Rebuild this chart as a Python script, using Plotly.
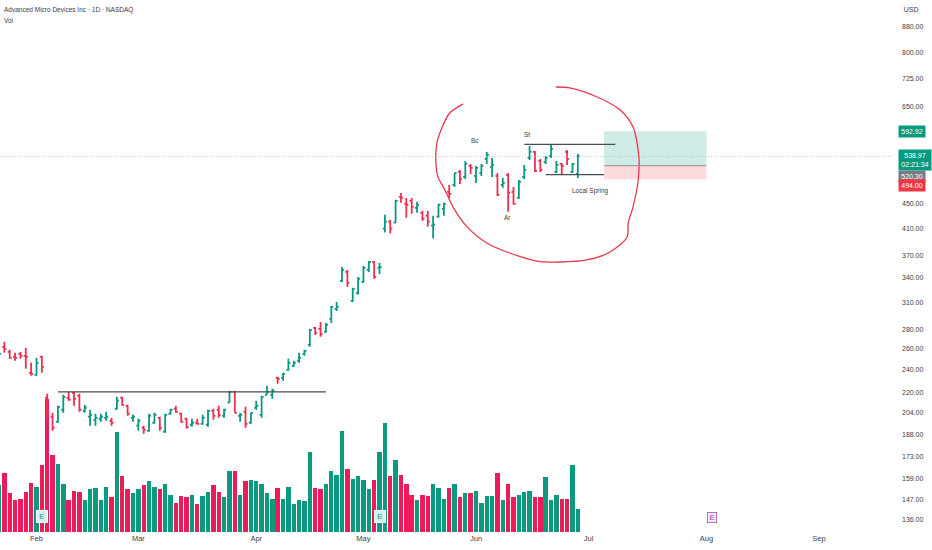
import math
import plotly.graph_objects as go

# Daily OHLC (one entry per trading day)
opens = [254.1, 262, 257, 252.2, 255.1, 253.2, 237.4, 235.6, 252.2, 216,
         201, 197.2, 206.4, 216, 220.1, 217.6, 205.6, 201, 198.7, 199.5,
         200.2, 198, 207.2, 216, 209.5, 200.2, 194.3, 192.8, 190.6, 196.5,
         200.2, 189.9, 203.3, 207.2, 203.3, 199.5, 195, 196.5, 195.7, 195,
         205.6, 206.4, 201.7, 212, 220.9, 201.7, 204.8, 196.5, 208, 202.5,
         218.4, 218.4, 232.9, 232.9, 240.1, 243.8, 248.5, 255.1, 263.9, 281.4,
         280.4, 277.2, 291.2, 302.4, 336.3, 347.9, 311.8, 321.4, 335, 350.6,
         361.3, 353.2, 410, 420.9, 419.3, 462.3, 450.3, 455.4, 443.6, 435.3,
         430.5, 414.6, 428.9, 441.9, 471.2, 483.8, 508.2, 498.7, 519.8, 500.6,
         506.3, 533.8, 517.9, 500.6, 483.8, 502.5, 471.2, 460.6, 498.7, 535.8,
         548.1, 529.8, 527.8, 539.9, 508.2, 523.8, 548.1, 508.2, 504.4]
highs = [257, 267, 259, 256.1, 257, 261, 246.6, 251.3, 253.2, 219.3,
         204, 209.5, 218.4, 220.9, 220.9, 219.3, 210.3, 206.4, 203.3, 203.3,
         204.8, 200.2, 216.8, 216.8, 210.3, 202.5, 199.5, 194.3, 203.3, 204,
         201, 203.3, 207.2, 209.5, 204, 200.2, 199.5, 199.5, 202.5, 206.4,
         207.2, 209.5, 207.2, 221.8, 221.8, 204, 208.7, 204, 213.6, 217.6,
         226, 223.5, 233.8, 237.4, 250.3, 248.5, 256.1, 259, 280.4, 282.5,
         287.9, 286.8, 305.9, 310.6, 354.5, 350.6, 327.6, 341.4, 355.9, 362.6,
         362.6, 359.9, 432.1, 424.1, 457.2, 469.4, 460.6, 460.6, 453.7, 438.5,
         438.5, 430.5, 450.3, 452, 483.8, 506.3, 512, 529.8, 523.8, 519.8,
         523.8, 548.1, 535.8, 506.3, 496.8, 506.3, 480.2, 493, 521.8, 560.8,
         550.2, 533.8, 539.9, 565, 529.8, 525.8, 552.3, 525.8, 544]
lows = [253.2, 256.1, 250.3, 248.5, 250.3, 241, 234.7, 234.7, 237.4, 200.2,
        190.6, 196.5, 204, 213.6, 209.5, 204.8, 204, 194.3, 194.3, 197.2,
        198, 194.3, 206.4, 209.5, 201.7, 197.2, 190.6, 188.5, 189.9, 195.7,
        190.6, 189.2, 202.5, 204, 196.5, 192, 193.5, 195, 195, 193.5,
        198.7, 200.2, 200.2, 212, 204, 197.2, 192.8, 195.7, 206.4, 200.2,
        218.4, 215.2, 227.7, 230.3, 239.2, 242.8, 246.6, 253.2, 262, 274.1,
        272.1, 276.2, 286.8, 300.1, 335, 328.8, 310.6, 319, 333.8, 347.9,
        338.9, 345.3, 404, 402.4, 419.3, 452, 427.3, 433.7, 435.3, 422.5,
        413, 395.1, 427.3, 430.5, 460.6, 480.2, 485.6, 494.9, 504.4, 487.5,
        500.6, 523.8, 498.7, 464, 478.4, 436.9, 448.6, 458.9, 494.9, 531.8,
        508.2, 508.2, 523.8, 535.8, 506.3, 502.5, 521.8, 506.3, 496.8]
closes = [255.1, 260, 251.3, 251.3, 253.2, 252.2, 236.5, 246.6, 242.8, 204.8,
          192.8, 208.7, 216.8, 214.4, 215.2, 206.4, 208, 202.5, 200.2, 201,
          201, 196.5, 213.6, 210.3, 203.3, 201, 198, 191.3, 201.7, 202.5,
          192.8, 202.5, 206.4, 204.8, 197.2, 193.5, 196.5, 195.7, 200.2, 205.6,
          201.7, 202.5, 206.4, 220.9, 204, 202.5, 195.7, 204, 209.5, 216.8,
          220.9, 221.8, 232, 236.5, 246.6, 246.6, 251.3, 258, 279.4, 276.2,
          275.2, 284.7, 304.7, 304.7, 350.6, 333.8, 326.3, 338.9, 353.2, 361.3,
          341.4, 354.5, 420.9, 410, 455.4, 460.6, 448.6, 445.3, 448.6, 425.7,
          420.9, 416.2, 448.6, 450.3, 467.6, 506.3, 494.9, 523.8, 515.9, 515.9,
          519.8, 541.9, 521.8, 465.8, 487.5, 469.4, 450.3, 489.3, 512, 548.1,
          510.1, 512, 535.8, 554.4, 521.8, 519.8, 533.8, 523.8, 538.97]
# Volume, in millions (no scale on the chart, so estimated from bar heights)
volumes = [35, 44, 29, 24, 25, 30, 37, 34, 50, 100,
           58, 51, 36, 24, 31, 30, 24, 32, 33, 24,
           34, 26, 75, 42, 32, 29, 32, 35, 38, 34,
           32, 36, 28, 22, 27, 26, 28, 21, 27, 30,
           35, 30, 26, 46, 46, 28, 38, 39, 38, 36,
           29, 25, 33, 25, 34, 21, 24, 23, 60, 33,
           32, 36, 46, 43, 76, 47, 40, 42, 39, 32,
           39, 60, 82, 42, 54, 43, 36, 28, 24, 28,
           27, 36, 33, 25, 33, 36, 26, 29, 29, 31,
           22, 27, 27, 44, 24, 36, 26, 28, 30, 31,
           26, 26, 41, 24, 28, 25, 25, 50, 17]

month_ticks = [7, 26, 48, 68, 89, 110, 132, 153]
month_labels = ['Feb', 'Mar', 'Apr', 'May', 'Jun', 'Jul', 'Aug', 'Sep']
price_ticks = [880, 800, 725, 650, 450, 410, 370, 340, 310, 280, 260, 240,
               220, 204, 188, 173, 159, 147, 136]

earnings_days = [8, 71]
next_earnings_day = 133

target_price = 592.92
stop_price = 494.00
entry_price = 520.30
last_price = closes[-1]

# Hand drawn red circle, as bar number / price
circle_days = [86.6, 84.1, 82.7, 81.7, 81.5, 81.9, 83.2, 84.7, 87.3, 91, 95.3, 100.4, 104.7,
               109.7, 114, 117.2, 117.4, 118.3, 119.2, 119.4, 118.3, 115.9, 111.6, 106.5, 103.9]
circle_prices = [657.5, 635.3, 602.5, 567, 531.8, 498.7, 474.8, 445.3, 413, 388.3, 373.8, 362.6, 361.3,
                 364.1, 375.2, 397.2, 418.9, 445.3, 487.3, 537.8, 602.5, 642.6, 675, 698.5, 701.1]

GREEN = '#089981'
RED = '#ee2f4f'
VOL_GREEN = '#0b9a80'
VOL_RED = '#ec1c5b'
TEXT = '#3a3e48'
FONT = 'Liberation Sans'

days = list(range(len(closes)))
vol_colors = [VOL_RED if c < o else VOL_GREEN for o, c in zip(opens, closes)]

fig = go.Figure()

fig.add_trace(go.Bar(x=days, y=volumes, marker=dict(color=vol_colors, line_width=0),
                     width=0.82, yaxis='y', hoverinfo='none', showlegend=False))
fig.add_trace(go.Ohlc(x=days, open=opens, high=highs, low=lows, close=closes, yaxis='y2',
                      tickwidth=0.38, increasing=dict(line=dict(color=GREEN, width=1.8)),
                      decreasing=dict(line=dict(color=RED, width=1.8)),
                      hoverinfo='none', showlegend=False))
fig.add_trace(go.Scatter(x=circle_days, y=circle_prices, yaxis='y2', mode='lines',
                         line=dict(color='#e8394f', width=1.3, shape='spline', smoothing=0.8),
                         hoverinfo='none', showlegend=False))


def level(x0, x1, price):
    fig.add_shape(type='line', xref='x', yref='y2', x0=x0, x1=x1, y0=price, y1=price,
                  line=dict(color='#4a4d55', width=1.2))


def zone(x0, x1, p0, p1, color):
    fig.add_shape(type='rect', xref='x', yref='y2', x0=x0, x1=x1, y0=p0, y1=p1,
                  fillcolor=color, line_width=0, layer='below')


# Risk/reward box
zone(112.9, 132, entry_price, target_price, 'rgba(8,153,129,0.2)')
zone(112.9, 132, stop_price, entry_price, 'rgba(242,54,69,0.18)')
fig.add_shape(type='line', xref='x', yref='y2', x0=112.9, x1=132, y0=entry_price, y1=entry_price,
              line=dict(color='#8a8d93', width=1))

# Trend lines
level(11, 61, 220.9)
level(98, 115, 564)
level(102, 112.9, 503)

# Last price line
fig.add_shape(type='line', xref='paper', yref='y2', x0=0, x1=1, y0=last_price, y1=last_price,
              line=dict(color='#8fb8af', width=0.7, dash='1px,2px'))


def note(text, x, price):
    fig.add_annotation(text=text, x=x, y=math.log10(price), xref='x', yref='y2', showarrow=False,
                       font=dict(family=FONT, size=6.5, color=TEXT))


note('Bc', 88.8, 571.4)
note('St', 98.5, 584.6)
note('Ar', 94.8, 426.9)
note('Local Spring', 110.3, 472.9)


def price_tag(text, price, color, w=25, h=10, shift=0):
    fig.add_annotation(text=text, x=1, xref='paper', y=math.log10(price), yref='y2', xanchor='left',
                       xshift=5, yshift=shift, showarrow=False, bgcolor=color, width=w, height=h,
                       borderpad=0.5, align='center', font=dict(family=FONT, size=7, color='white'))


price_tag(f'{target_price:.2f}', target_price, GREEN)
price_tag(f'{entry_price:.2f}', entry_price, '#787b86', shift=-11)
price_tag(f'{stop_price:.2f}', stop_price, '#f23645', shift=-6)
price_tag(f'{last_price:.2f}<br>02:21:34', last_price, GREEN, w=31, h=19, shift=-4)

# Earnings flags sit on the bottom of the chart
for day in earnings_days:
    fig.add_annotation(text='E', x=day, xref='x', y=0.017, yref='paper', showarrow=False, width=10, height=11,
                       bgcolor='#d9f1ec', bordercolor='#ffffff', borderwidth=1, borderpad=0,
                       font=dict(family=FONT, size=8, color=GREEN))
fig.add_annotation(text='E', x=next_earnings_day, xref='x', y=0.017, yref='paper', showarrow=False, width=9, height=10,
                   bgcolor='#f6ecf8', bordercolor='#a13cb8', borderwidth=0.7, borderpad=0,
                   font=dict(family=FONT, size=8, color='#a13cb8'))

fig.add_annotation(text='Advanced Micro Devices Inc · 1D · NASDAQ', x=0, y=1, xref='paper', yref='paper',
                   xanchor='left', yanchor='top', xshift=2, yshift=-4, showarrow=False,
                   font=dict(family=FONT, size=6.5, color=TEXT))
fig.add_annotation(text='Vol', x=0, y=1, xref='paper', yref='paper', xanchor='left', yanchor='top',
                   xshift=2, yshift=-15, showarrow=False, font=dict(family=FONT, size=6.5, color=TEXT))
fig.add_annotation(text='USD', x=1, y=1, xref='paper', yref='paper', xanchor='left', yanchor='top',
                   xshift=9, yshift=-4, showarrow=False, bgcolor='white', bordercolor='#f0f1f3', borderwidth=0.7,
                   font=dict(family=FONT, size=7, color=TEXT))

fig.update_layout(
    width=932, height=550,
    margin=dict(l=0, r=39, t=0, b=18),
    paper_bgcolor='white', plot_bgcolor='white',
    bargap=0, showlegend=False,
    xaxis=dict(range=[0.19, 166.8], tickvals=month_ticks, ticktext=month_labels, showgrid=False,
               zeroline=False, showline=False, ticks='', rangeslider=dict(visible=False),
               tickfont=dict(family=FONT, size=7.5, color=TEXT)),
    yaxis=dict(range=[0, 399], visible=False),
    yaxis2=dict(type='log', range=[2.1136, 2.9889], overlaying='y', side='right',
                tickvals=price_ticks, ticktext=[f'{p:.2f}' for p in price_ticks],
                showgrid=False, zeroline=False, showline=False, ticks='', ticklabelstandoff=8,
                tickfont=dict(family=FONT, size=7, color=TEXT)),
)

# plotly's page keeps the browser's default body margin otherwise
fig.write_html("out.html", config=dict(displayModeBar=False), post_script="document.body.style.margin='0';")
